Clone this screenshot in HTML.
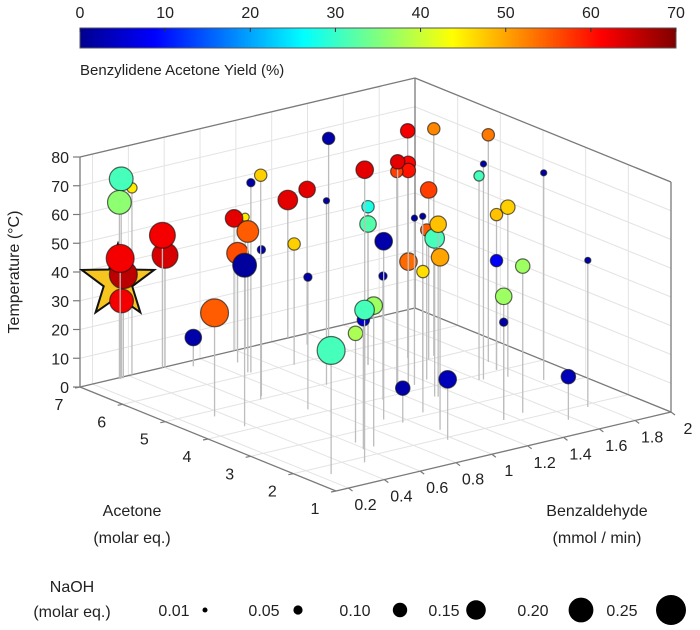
<!DOCTYPE html>
<html><head><meta charset="utf-8">
<style>
html,body{margin:0;padding:0;background:#fff;}
svg{display:block;font-family:"Liberation Sans",sans-serif;}
</style></head>
<body>
<svg id="chart" width="700" height="630" viewBox="0 0 700 630" xmlns="http://www.w3.org/2000/svg">
<defs>
<linearGradient id="jet" x1="0" x2="1" y1="0" y2="0">
<stop offset="0" stop-color="#00008f"/><stop offset="0.125" stop-color="#0000ff"/>
<stop offset="0.375" stop-color="#00ffff"/><stop offset="0.625" stop-color="#ffff00"/>
<stop offset="0.875" stop-color="#ff0000"/><stop offset="1" stop-color="#800000"/>
</linearGradient>
</defs>
<g id="colorbar">
<rect x="80" y="28" width="596" height="20" fill="url(#jet)" stroke="#555" stroke-width="1"/>
</g>
<text x="80" y="75" font-size="15" fill="#222">Benzylidene Acetone Yield (%)</text>
<g id="grid"></g>
<g id="axes"></g>
<g id="marks"></g>
<text transform="translate(19,272) rotate(-90)" text-anchor="middle" font-size="16" fill="#222">Temperature (°C)</text>
<text x="132" y="516" text-anchor="middle" font-size="16" fill="#222">Acetone</text>
<text x="132" y="543" text-anchor="middle" font-size="16" fill="#222">(molar eq.)</text>
<text x="597" y="516" text-anchor="middle" font-size="16" fill="#222">Benzaldehyde</text>
<text x="597" y="543" text-anchor="middle" font-size="16" fill="#222">(mmol / min)</text>
<g id="legend">
<text x="72" y="592" text-anchor="middle" font-size="16" fill="#222">NaOH</text>
<text x="72" y="617" text-anchor="middle" font-size="16" fill="#222">(molar eq.)</text>
</g>
</svg>
<script>
// ---- data ----
const acetone = [7.0,7.0,7.0,6.95,6.95,6.94,7.0,6.98,4.77,6.78,7.0,6.95,6.54,4.15,6.09,5.1,4.99,6.06,7.0,6.59,5.97,4.22,5.75,4.96,1.66,5.0,5.33,5.33,3.2,3.93,4.55,3.12,3.56,4.29,3.6,2.34,4.3,1.8,2.3,2.29,2.6,2.92,1.91,4.04,3.69,4.04,2.25,2.15,2.15,3.82,5.24,5.09,4.3,4.26,4.32,4.26,4.82,4.4,3.8,4.2,3.27,1.9,1.6];
const benzaldehyde = [0.36,0.42,0.35,0.35,0.36,0.34,0.59,0.6,0.35,0.71,0.99,1.04,0.9,0.37,0.85,0.69,0.66,0.86,1.29,1.3,1.08,0.74,1.22,1.02,0.26,1.6,1.34,1.34,0.92,1.09,1.38,1.12,1.31,1.42,1.3,1.03,1.4,0.48,0.65,0.59,0.62,0.96,0.97,1.75,1.73,1.75,1.47,1.34,1.34,1.6,1.54,1.65,1.26,1.31,1.26,1.31,1.2,1.79,1.62,1.33,1.83,1.75,1.57];
const temperature = [69,65,61,27,36,42,46,39,36,10,46,46,38,56,49,51,78,66,48,54,42,46,78,64,43,59,55,49,62,43,40,49,60,52,55,60,57,53,49,45,38,12,21,54,59,38,51,43,34,71,79,79,78,77,74.5,74.5,73,79,75,58,72,51,15];
const naoh = [0.19,0.06,0.19,0.19,0.23,0.23,0.21,0.21,0.23,0.12,0.13,0.04,0.17,0.19,0.17,0.04,0.08,0.04,0.15,0.12,0.08,0.04,0.08,0.02,0.23,0.12,0.08,0.12,0.13,0.04,0.13,0.08,0.12,0.08,0.15,0.13,0.02,0.15,0.13,0.08,0.1,0.1,0.13,0.08,0.1,0.08,0.1,0.12,0.04,0.06,0.1,0.08,0.1,0.1,0.08,0.1,0.13,0.08,0.02,0.02,0.02,0.02,0.1];
const yieldPct = [31,45,36,62,66,62,62,64,55,3,63,45,56,2,55,3,47,3,63,63,47,3,3,3,31,57,28,32,3,3,54,46,48,55,31,50,3,31,37,5,38,3,4,48,47,8,37,37,3,31,62,52,63,61,57,60,63,53,3,3,3,3,4];
const bestPoint = {acetone:6.95, benzaldehyde:0.33, temperature:34};
const tempTicks = [0,10,20,30,40,50,60,70,80];
const acetoneTicks = [1,2,3,4,5,6,7];
const benzTicks = [0.2,0.4,0.6,0.8,1,1.2,1.4,1.6,1.8,2];
const benzTickLabels = ["0.2","0.4","0.6","0.8","1","1.2","1.4","1.6","1.8","2"];
const cbTicks = [0,10,20,30,40,50,60,70];
const legendValues = [0.01,0.05,0.10,0.15,0.20,0.25];
const legendLabels = ["0.01","0.05","0.10","0.15","0.20","0.25"];

// ---- axes / projection ----
const A0=1,A1=7,B0=0.13,B1=2,T1=80;
function uA(a){return (a-A0)/(A1-A0);}
function vB(b){return (b-B0)/(B1-B0);}
function proj(a,b,t){
  const u=uA(a), v=vB(b);
  return [336-256*u+335*v, 491-104*u-79*v-2.875*t];
}
function rOf(n){return 2+52*n;}
function jet(y){
  const x=Math.max(0,Math.min(1,y/70));
  const c=f=>Math.round(255*Math.max(0,Math.min(1,f)));
  return `rgb(${c(1.5-Math.abs(4*x-3))},${c(1.5-Math.abs(4*x-2))},${c(1.5-Math.abs(4*x-1))})`;
}
const NS="http://www.w3.org/2000/svg";
function mk(tag,attrs,parent){const e=document.createElementNS(NS,tag);for(const k in attrs)e.setAttribute(k,attrs[k]);parent.appendChild(e);return e;}
function line(p,q,stroke,w,parent,name){
  const e=mk('line',{x1:p[0],y1:p[1],x2:q[0],y2:q[1],stroke:stroke,'stroke-width':w},parent);
  
  
  return e;
}
const grid=document.getElementById('grid'), axes=document.getElementById('axes'), marks=document.getElementById('marks');
const GC="#e3e3e3", EC="#7a7a7a";
acetoneTicks.forEach(a=>line(proj(a,B0,0),proj(a,B1,0),GC,1,grid,'floor-grid-line'));
benzTicks.forEach(b=>line(proj(A0,b,0),proj(A1,b,0),GC,1,grid,'floor-grid-line'));
tempTicks.forEach(t=>line(proj(A1,B0,t),proj(A1,B1,t),GC,1,grid,'left-wall-grid-line'));
benzTicks.forEach(b=>line(proj(A1,b,0),proj(A1,b,T1),GC,1,grid,'left-wall-grid-line'));
tempTicks.forEach(t=>line(proj(A0,B1,t),proj(A1,B1,t),GC,1,grid,'right-wall-grid-line'));
acetoneTicks.forEach(a=>line(proj(a,B1,0),proj(a,B1,T1),GC,1,grid,'right-wall-grid-line'));
[[proj(A1,B0,0),proj(A1,B0,T1)],[proj(A1,B1,0),proj(A1,B1,T1)],[proj(A0,B1,0),proj(A0,B1,T1)],
 [proj(A1,B0,T1),proj(A1,B1,T1)],[proj(A1,B1,T1),proj(A0,B1,T1)],
 [proj(A1,B0,0),proj(A1,B1,0)],[proj(A1,B1,0),proj(A0,B1,0)],
 [proj(A1,B0,0),proj(A0,B0,0)],[proj(A0,B0,0),proj(A0,B1,0)]].forEach(s=>line(s[0],s[1],EC,1.3,axes,'box-edge'));
tempTicks.forEach(t=>{
  const p=proj(A1,B0,t);
  line([p[0]-7,p[1]],p,EC,1.2,axes,'temperature-tick');
  const tx=mk('text',{x:p[0]-11,y:p[1]+6,'text-anchor':'end','font-size':16,fill:'#222'},axes);
  
  
  tx.textContent=t;
});
acetoneTicks.forEach(a=>{
  const p=proj(a,B0,0);
  line(p,[p[0]-5,p[1]+1],EC,1.2,axes,'acetone-tick');
  const tx=mk('text',{x:p[0]-21,y:p[1]+23,'text-anchor':'middle','font-size':16,fill:'#222'},axes);
  
  
  tx.textContent=a;
});
benzTicks.forEach((b,i)=>{
  const p=proj(A0,b,0);
  line(p,[p[0]+4,p[1]+3],EC,1.2,axes,'benzaldehyde-tick');
  const tx=mk('text',{x:p[0]+17,y:p[1]+22,'text-anchor':'middle','font-size':16,fill:'#222'},axes);
  
  
  tx.textContent=benzTickLabels[i];
});
const cb=document.getElementById('colorbar');
cbTicks.forEach(v=>{
  const x=80+596*v/70;
  line([x,28],[x,32],'#333',1,cb,'colorbar-tick');
  const tx=mk('text',{x:x,y:18,'text-anchor':'middle','font-size':16,fill:'#222'},cb);
  
  
  tx.textContent=v;
});
const order=acetone.map((a,i)=>i);
const depth=i=>uA(acetone[i])+vB(benzaldehyde[i]);
order.push(-1);
const dStar=uA(bestPoint.acetone)+vB(bestPoint.benzaldehyde)+0.02;
order.sort((p,q)=>(q<0?dStar:depth(q))-(p<0?dStar:depth(p)));
order.forEach(i=>{
  if(i<0){
    const c=proj(bestPoint.acetone,bestPoint.benzaldehyde,bestPoint.temperature);
    let pts=[];
    for(let k=0;k<10;k++){const r=k%2?15:38;const ang=-Math.PI/2+k*Math.PI/5;pts.push((c[0]+r*Math.cos(ang)).toFixed(1)+','+(c[1]+r*Math.sin(ang)).toFixed(1));}
    const s=mk('polygon',{points:pts.join(' '),fill:'#f7c520',stroke:'#111','stroke-width':2,'stroke-linejoin':'miter'},marks);
    
    
    return;
  }
  const base=proj(acetone[i],benzaldehyde[i],0), top=proj(acetone[i],benzaldehyde[i],temperature[i]);
  line(base,top,'#bdbdbd',1.3,marks,'point-stem');
  const c=mk('circle',{cx:top[0],cy:top[1],r:rOf(naoh[i]),fill:jet(yieldPct[i]),stroke:'rgba(20,20,20,0.65)','stroke-width':1.2},marks);
  
  
});
const lg=document.getElementById('legend');
const lx=[174,264,355,444,533,622], mx=[205,298,400,476,581,671];
legendValues.forEach((n,i)=>{
  const tx=mk('text',{x:lx[i],y:616,'text-anchor':'middle','font-size':16,fill:'#222'},lg);
  
  
  tx.textContent=legendLabels[i];
  const c=mk('circle',{cx:mx[i],cy:610,r:rOf(n),fill:'#000'},lg);
  
  
});
</script>
</body></html>
